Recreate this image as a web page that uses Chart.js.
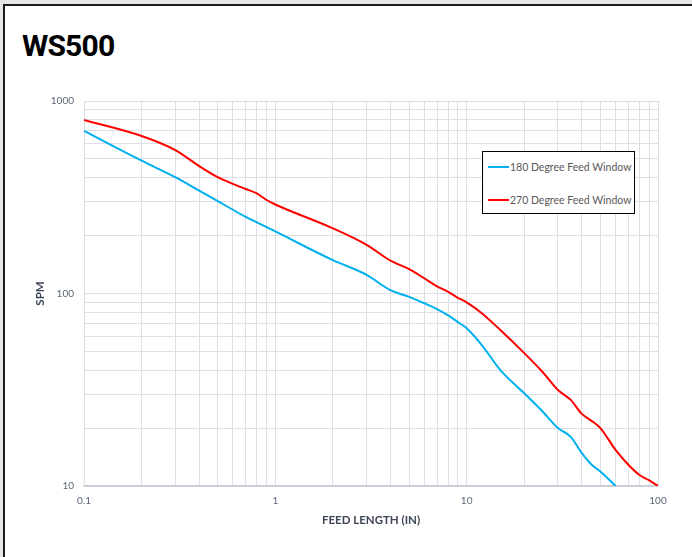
<!DOCTYPE html>
<html>
<head>
<meta charset="utf-8">
<script src="https://cdn.jsdelivr.net/npm/chart.js@4/dist/chart.umd.min.js"></script>
<style>
  html, body { margin: 0; padding: 0; }
  body { width: 692px; height: 557px; background: #e6e6e6; position: relative; overflow: hidden; }
  #card { position: absolute; left: 3px; top: 4px; width: 720px; height: 600px; background: #fff; border: 2px solid #1c1c1c; }
  #title { position: absolute; left: 22px; top: 28px; font: bold 30px Roboto, sans-serif; letter-spacing: -0.8px; color: #000; }
  #chart { position: absolute; left: 0; top: 0; }
  #legend { position: absolute; left: 482px; top: 151px; width: 151px; height: 61px; border: 1px solid #000; background: #fff;
            font: 10.5px Lato, sans-serif; color: #595959; }
  #legend .item { position: absolute; left: 5px; height: 14px; line-height: 14px; white-space: nowrap; }
  #legend .swatch { display: inline-block; width: 21px; height: 2px; vertical-align: middle; margin-right: 1px; position: relative; top: -1px; }
</style>
</head>
<body>
<div id="card"></div>
<div id="title">WS500</div>
<canvas id="chart" width="692" height="557"></canvas>
<div id="legend"></div>
<script>
const seriesNames = ['180 Degree Feed Window', '270 Degree Feed Window'];

const feedLength180 = [0.1, 0.2, 0.3, 0.4, 0.5, 0.7, 0.8, 1, 2, 3, 4, 5, 6, 7, 8, 9, 10, 12, 15, 20, 25, 30, 35, 40, 45, 50, 60];
const spm180 = [700, 490, 402, 342, 302, 250, 234, 210, 149, 125, 104, 96, 89, 83, 77, 71, 66, 54, 40, 30.3, 24.3, 20, 18, 14.8, 12.9, 11.9, 10];

const feedLength270 = [0.1, 0.2, 0.3, 0.4, 0.5, 0.6, 0.7, 0.8, 0.9, 1, 2, 3, 4, 5, 6, 7, 8, 9, 10, 12, 15, 20, 25, 30, 35, 40, 45, 50, 60, 70, 80, 90, 100];
const spm270 = [797, 658, 556, 459, 402, 371, 349, 331, 306, 290, 218, 179, 148, 134, 120, 109, 102, 95, 90, 79, 64.6, 49, 39, 31.5, 28, 23.7, 21.8, 20, 15.4, 12.9, 11.4, 10.7, 10];

const xTickLabels = [0.1, 1, 10, 100];
const yTickLabels = [10, 100, 1000];

const colors = ['#00b0f0', '#ff0000'];

// gridlines at 1..9 of every decade, labels only on the decades
function decadeTicks(decades) {
  const out = [];
  for (let i = 0; i < decades.length - 1; i++) {
    for (let m = 1; m < 10; m++) out.push({ value: Math.round(decades[i] * m * 1e6) / 1e6 });
  }
  out.push({ value: decades[decades.length - 1] });
  return out;
}

const tickFont = { family: 'Lato, sans-serif', size: 10 };
const titleFont = { family: 'Lato, sans-serif', size: 11.5, weight: 'bold' };
const gridColor = '#dcdfe5';
const axisColor = '#c5cad5';
const labelColor = '#5b6577';

const chart = new Chart(document.getElementById('chart'), {
  type: 'line',
  data: {
    datasets: [
      {
        label: seriesNames[0],
        data: feedLength180.map((x, i) => ({ x: x, y: spm180[i] })),
        borderColor: colors[0],
        backgroundColor: colors[0]
      },
      {
        label: seriesNames[1],
        data: feedLength270.map((x, i) => ({ x: x, y: spm270[i] })),
        borderColor: colors[1],
        backgroundColor: colors[1]
      }
    ]
  },
  options: {
    responsive: false,
    devicePixelRatio: 1,
    animation: false,
    layout: { padding: { left: 33, top: 101, right: 34, bottom: 30 } },
    elements: {
      point: { radius: 0 },
      line: { borderWidth: 2, cubicInterpolationMode: 'monotone' }
    },
    plugins: {
      legend: { display: false },
      tooltip: { enabled: false }
    },
    scales: {
      x: {
        type: 'logarithmic',
        min: 0.1,
        max: 100,
        afterBuildTicks: s => { s.ticks = decadeTicks(xTickLabels); },
        afterFit: s => { s.height = 41; },
        ticks: {
          autoSkip: false,
          maxRotation: 0,
          padding: 9,
          color: labelColor,
          font: tickFont,
          callback: v => xTickLabels.includes(v) ? String(v) : ''
        },
        grid: { color: gridColor, drawTicks: false },
        border: { color: axisColor, width: 1.5 },
        title: { display: true, text: 'FEED LENGTH (IN)', color: '#3e4757', font: titleFont, padding: 0 }
      },
      y: {
        type: 'logarithmic',
        min: 10,
        max: 1000,
        afterBuildTicks: s => { s.ticks = decadeTicks(yTickLabels); },
        afterFit: s => { s.width = 51; },
        ticks: {
          autoSkip: false,
          padding: 10,
          color: labelColor,
          font: tickFont,
          callback: v => yTickLabels.includes(v) ? String(v) : ''
        },
        grid: { color: gridColor, drawTicks: false },
        border: { color: gridColor, width: 1 },
        title: { display: true, text: 'SPM', color: '#3e4757', font: titleFont, padding: 0 }
      }
    }
  }
});

// legend box inside the plot, built from the datasets
const legend = document.getElementById('legend');
chart.data.datasets.forEach((ds, i) => {
  const item = document.createElement('div');
  item.className = 'item';
  item.style.top = (8 + i * 32.5) + 'px';
  item.innerHTML = '<span class="swatch" style="background:' + ds.borderColor + '"></span>' + ds.label;
  legend.appendChild(item);
});
</script>
</body>
</html>
